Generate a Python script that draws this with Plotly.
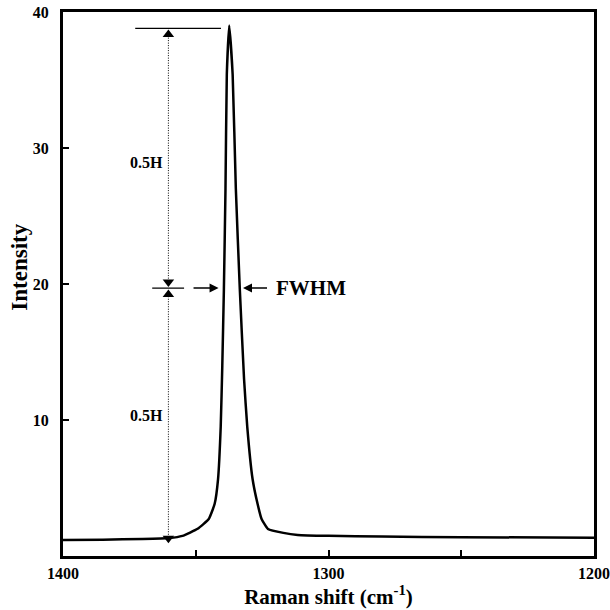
import plotly.graph_objects as go

# Raman spectrum
shift = [1400, 1385, 1370, 1360, 1355, 1349.3, 1345.1, 1342.9, 1341.6, 1340.6, 1340.0,
         1339.4, 1338.8, 1338.3, 1337.4,
         1336.1, 1334.9, 1333.4, 1331.8, 1330.6, 1328.6, 1326.7, 1325.2, 1322.8,
         1317, 1311.6, 1300, 1280, 1250, 1200]
intensity = [1.18, 1.2, 1.25, 1.32, 1.48, 2.0, 2.72, 3.82, 5.66, 9.5, 14.0,
             19.6, 27.0, 35.4, 39.0,
             35.4, 27.0, 19.6, 13.0, 9.5, 5.66, 3.82, 2.72, 1.99,
             1.7, 1.55, 1.48, 1.43, 1.38, 1.35]

x_ticks = [1400, 1350, 1300, 1250, 1200]
x_tick_labels = ["1400", "", "1300", "", "1200"]
y_ticks = [10, 20, 30, 40]
y_tick_labels = ["10", "20", "30", "40"]

# annotation geometry (data coordinates)
marker_x = 1360.3
peak_h = 38.8
half_h = 19.7
base_h = 1.25

font_fam = "Liberation Serif, Times New Roman, serif"

fig = go.Figure()
fig.add_trace(go.Scatter(x=shift, y=intensity, mode="lines",
                         line=dict(color="black", width=2.5, shape="spline", smoothing=0.4),
                         hoverinfo="skip"))

# dotted vertical guides
fig.add_trace(go.Scatter(x=[marker_x, marker_x], y=[38.3, 20.3], mode="lines",
                         line=dict(color="black", width=1, dash="1px,1.5px")))
fig.add_trace(go.Scatter(x=[marker_x, marker_x], y=[19.1, base_h + 0.2], mode="lines",
                         line=dict(color="black", width=1, dash="1px,1.5px")))
# horizontal lines
fig.add_trace(go.Scatter(x=[1372.8, 1340.5], y=[peak_h, peak_h], mode="lines",
                         line=dict(color="black", width=1.2)))
fig.add_trace(go.Scatter(x=[1366.4, 1354.4], y=[half_h, half_h], mode="lines",
                         line=dict(color="black", width=1.2)))
# arrowheads
fig.add_trace(go.Scatter(x=[marker_x, marker_x], y=[38.35, 19.23], mode="markers",
                         marker=dict(symbol="triangle-up", size=10, color="black")))
fig.add_trace(go.Scatter(x=[marker_x, marker_x], y=[20.15, 1.3], mode="markers",
                         marker=dict(symbol="triangle-down", size=10, color="black")))

fig.add_annotation(x=1341.4, y=half_h, ax=1351.4, ay=half_h, axref="x", ayref="y",
                   xref="x", yref="y", showarrow=True, arrowhead=2, arrowsize=1.2,
                   arrowwidth=1.5, arrowcolor="black", text="")
fig.add_annotation(x=1332.2, y=half_h, ax=1322.6, ay=half_h, axref="x", ayref="y",
                   xref="x", yref="y", showarrow=True, arrowhead=2, arrowsize=1.2,
                   arrowwidth=1.5, arrowcolor="black", text="")
fig.add_annotation(x=1320.5, y=half_h, text="<b>FWHM</b>", showarrow=False,
                   xanchor="left", font=dict(family=font_fam, size=21, color="black"))
fig.add_annotation(x=1361.6, y=28.9, text="<b>0.5H</b>", showarrow=False,
                   xanchor="right", font=dict(family=font_fam, size=16, color="black"))
fig.add_annotation(x=1361.6, y=10.3, text="<b>0.5H</b>", showarrow=False,
                   xanchor="right", font=dict(family=font_fam, size=16, color="black"))
# y-axis title (placed as in the reference, slightly above the axis middle)
fig.add_annotation(x=0, y=0.53, xref="paper", yref="paper", xshift=-43,
                   text="<b>Intensity</b>", textangle=-90, showarrow=False,
                   xanchor="center", yanchor="middle",
                   font=dict(family=font_fam, size=23, color="black"))

fig.update_layout(
    width=610, height=610,
    margin=dict(l=63, r=16, t=12, b=54),
    plot_bgcolor="white", paper_bgcolor="white",
    showlegend=False,
    font=dict(family=font_fam, color="black"),
    xaxis=dict(range=[1400, 1200], tickvals=x_ticks, ticktext=x_tick_labels,
               ticks="inside", ticklen=6, tickwidth=2, tickcolor="black",
               showline=True, linewidth=3, linecolor="black", mirror=True,
               showgrid=False, zeroline=False, ticklabelstandoff=1, automargin=False,
               tickfont=dict(family=font_fam, size=16, color="black", weight="bold"),
               title=dict(text="<b>Raman shift (cm<sup>-1</sup>)</b>", standoff=2,
                          font=dict(family=font_fam, size=21, color="black"))),
    yaxis=dict(range=[0, 40], tickvals=y_ticks, ticktext=y_tick_labels,
               ticks="inside", ticklen=6, tickwidth=2, tickcolor="black",
               showline=True, linewidth=3, linecolor="black", mirror=True,
               showgrid=False, zeroline=False, ticklabelstandoff=8, automargin=False,
               tickfont=dict(family=font_fam, size=16, color="black", weight="bold")),
)

fig.write_html("out.html", config={"displayModeBar": False},
               post_script="document.body.style.margin='0';document.body.style.overflow='hidden';")
